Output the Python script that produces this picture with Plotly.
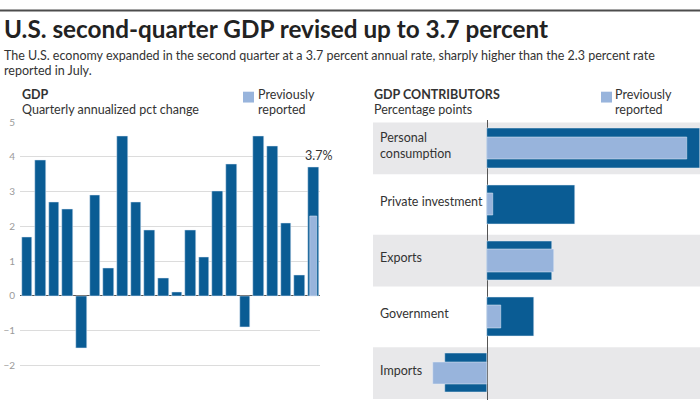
import plotly.graph_objects as go

# ---- data ----
gdp_values = [1.7, 3.9, 2.7, 2.5, -1.5, 2.9, 0.8, 4.6, 2.7, 1.9, 0.5, 0.1,
              1.9, 1.1, 3.0, 3.8, -0.9, 4.6, 4.3, 2.1, 0.6, 3.7]
gdp_prev_value = 2.3
gdp_label = "3.7%"
gdp_ticks = [-3, -2, -1, 0, 1, 2, 3, 4, 5]

contrib_categories = ["Personal<br>consumption", "Private investment", "Exports",
                      "Government", "Imports"]
contrib_revised = [2.13, 0.88, 0.65, 0.47, -0.42]
contrib_previous = [2.00, 0.06, 0.67, 0.14, -0.54]

title_text = "U.S. second-quarter GDP revised up to 3.7 percent"
subtitle_lines = ["The U.S. economy expanded in the second quarter at a 3.7 percent annual rate, "
                  "sharply higher than the 2.3 percent rate", "reported in July."]
legend_lines = ["Previously", "reported"]

DARK = "#0a5c94"
LIGHT = "#98b4dc"
BAND = "#e8e8ea"
TXT = "#333333"
FONT = "Lato"

W, H = 700, 400
def px(x):
    return x / W
def py(y):
    return 1 - y / H

fig = go.Figure()

n = len(gdp_values)
xs = list(range(n))
fig.add_trace(go.Bar(x=xs, y=gdp_values, marker_color=DARK, width=0.78,
                     xaxis="x", yaxis="y", showlegend=False, hoverinfo="y"))
fig.add_trace(go.Bar(x=[xs[-1]], y=[gdp_prev_value], marker_color=LIGHT, width=0.49,
                     xaxis="x", yaxis="y", showlegend=False, hoverinfo="y"))

ys = list(range(len(contrib_categories)))
fig.add_trace(go.Bar(y=ys, x=contrib_revised, orientation="h", marker_color=DARK,
                     width=0.70, xaxis="x2", yaxis="y2", showlegend=False))
fig.add_trace(go.Bar(y=ys, x=contrib_previous, orientation="h", marker_color=LIGHT,
                     width=0.40, xaxis="x2", yaxis="y2", showlegend=False))

shapes = []
# top rule
shapes.append(dict(type="line", xref="paper", yref="paper", x0=0, x1=1,
                   y0=py(4.5), y1=py(4.5), line=dict(color="#4d4d4d", width=2)))
# bands
for i in ys:
    if i % 2 == 0:
        shapes.append(dict(type="rect", xref="x2 domain", yref="y2", x0=0, x1=1,
                           y0=i - 0.46, y1=i + 0.46, fillcolor=BAND,
                           line=dict(width=0), layer="below"))
# legend squares
for lx in (243, 601):
    shapes.append(dict(type="rect", xref="paper", yref="paper",
                       x0=px(lx), x1=px(lx + 11), y0=py(98), y1=py(87),
                       fillcolor=LIGHT, line=dict(width=0)))

def txt(text, x, y, size=12.5, color=TXT, **kw):
    return dict(text=text, x=px(x), y=py(y), xref="paper", yref="paper",
                xanchor="left", yanchor="middle", showarrow=False, align="left",
                borderpad=0, font=dict(family=FONT, size=size, color=color), **kw)

annotations = [
    txt("<b>" + title_text + "</b>", 3, 23, size=24.3, color="#222222"),
    txt(subtitle_lines[0], 3, 50),
    txt(subtitle_lines[1], 3, 65),
    txt("<b>GDP</b>", 21, 90),
    txt("Quarterly annualized pct change", 21, 105),
    txt("<b>GDP CONTRIBUTORS</b>", 373, 90),
    txt("Percentage points", 373, 105),
    txt(legend_lines[0], 257, 90),
    txt(legend_lines[1], 257, 105),
    txt(legend_lines[0], 614, 90),
    txt(legend_lines[1], 614, 105),
    dict(text=gdp_label, x=xs[-1], y=gdp_values[-1], xref="x", yref="y",
         xanchor="center", yanchor="bottom", xshift=5, yshift=2, showarrow=False,
         font=dict(family=FONT, size=12.5, color=TXT)),
]
for i, c in enumerate(contrib_categories):
    annotations.append(dict(text=c, x=px(378), y=i, xref="paper", yref="y2",
                            xanchor="left", yanchor="middle", showarrow=False,
                            align="left", yshift=3,
                            font=dict(family=FONT, size=12.5, color=TXT)))

fig.update_layout(
    width=W, height=H, margin=dict(l=0, r=0, t=0, b=0),
    paper_bgcolor="white", plot_bgcolor="white",
    barmode="overlay", bargap=0,
    font=dict(family=FONT, color=TXT),
    xaxis=dict(domain=[px(20), px(320)], range=[-0.5, n - 0.5], showticklabels=False,
               showgrid=False, zeroline=False, ticks=""),
    yaxis=dict(domain=[0, py(118)], range=[-3, 5], tickvals=gdp_ticks,
               showgrid=True, gridcolor="#dcdcdc", gridwidth=1,
               zeroline=True, zerolinecolor="#555555", zerolinewidth=1,
               tickfont=dict(family=FONT, size=10, color="#9a9a9a"), ticks="",
               ticklabelstandoff=4),
    xaxis2=dict(domain=[px(373), 1], range=[-1.14, 2.13], showticklabels=False,
                showgrid=False, zeroline=True, zerolinecolor="#555555", zerolinewidth=1,
                anchor="y2"),
    yaxis2=dict(domain=[0, py(116)], range=[4.48, -0.5], showticklabels=False,
                showgrid=False, zeroline=False, anchor="x2"),
    shapes=shapes, annotations=annotations,
)

fig.write_html("out.html", config={"displayModeBar": False},
               post_script="document.body.style.margin='0px';document.body.style.overflow='hidden';")
